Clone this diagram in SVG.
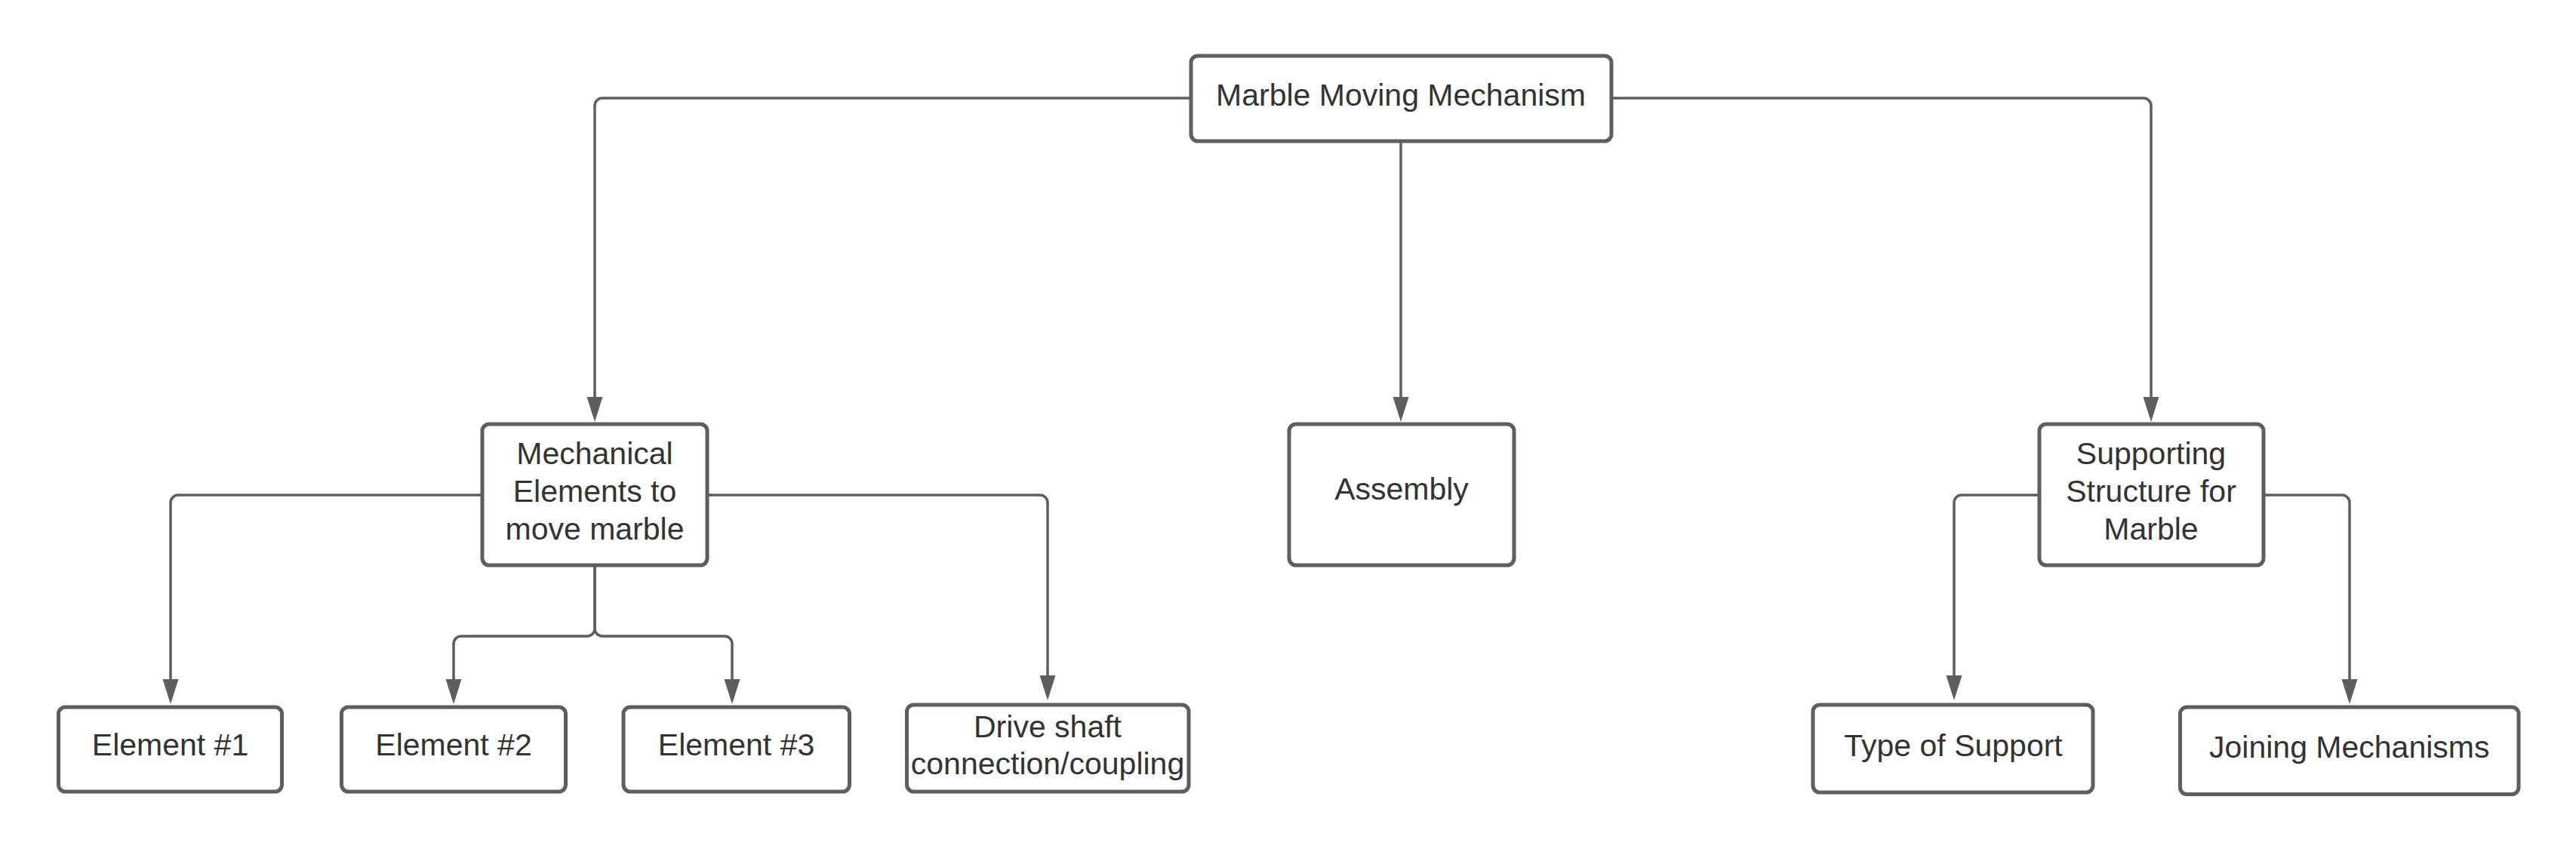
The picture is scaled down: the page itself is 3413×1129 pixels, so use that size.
<svg xmlns="http://www.w3.org/2000/svg" width="3413" height="1129" viewBox="0 0 3413 1129">
<style>
.box{fill:#ffffff;stroke:#5e5e5e;stroke-width:5}
.lbl{font-family:"Liberation Sans",Arial,sans-serif;font-size:41px;fill:#333333;text-anchor:middle}
.con{fill:none;stroke:#5e5e5e;stroke-width:3.5;marker-end:url(#arr)}
</style>
<defs>
<marker id="arr" markerUnits="userSpaceOnUse" markerWidth="34" markerHeight="22" refX="23" refY="10.5" orient="auto">
<path d="M0,0 L33,10.5 L0,21 Z" fill="#5e5e5e"/>
</marker>
</defs>
<rect width="3413" height="1129" fill="#ffffff"/>
<g id="connectors">
<path class="con" d="M1577,130 H798 A10,10 0 0 0 788,140 V549"/>
<path class="con" d="M1856,187 V549"/>
<path class="con" d="M2136,130 H2840 A10,10 0 0 1 2850,140 V549"/>
<path class="con" d="M639,656 H236 A10,10 0 0 0 226,666 V923"/>
<path class="con" d="M788,749 V833 A10,10 0 0 1 778,843 H611 A10,10 0 0 0 601,853 V923"/>
<path class="con" d="M788,749 V833 A10,10 0 0 0 798,843 H960 A10,10 0 0 1 970,853 V923"/>
<path class="con" d="M937,656 H1378 A10,10 0 0 1 1388,666 V918"/>
<path class="con" d="M2702,656 H2599 A10,10 0 0 0 2589,666 V918"/>
<path class="con" d="M2999,656 H3103 A10,10 0 0 1 3113,666 V923"/>
</g>
<g id="node-root">
<rect class="box" x="1578" y="74" width="557" height="113" rx="9"/>
<text class="lbl" x="1856" y="140">Marble Moving Mechanism</text>
</g>
<g id="node-mechanical">
<rect class="box" x="639" y="562" width="298" height="187" rx="9"/>
<text class="lbl" x="788" y="615">Mechanical</text>
<text class="lbl" x="788" y="665">Elements to</text>
<text class="lbl" x="788" y="715">move marble</text>
</g>
<g id="node-assembly">
<rect class="box" x="1708" y="562" width="298" height="187" rx="9"/>
<text class="lbl" x="1857" y="662">Assembly</text>
</g>
<g id="node-supporting">
<rect class="box" x="2702" y="562" width="297" height="187" rx="9"/>
<text class="lbl" x="2850" y="615">Supporting</text>
<text class="lbl" x="2850" y="665">Structure for</text>
<text class="lbl" x="2850" y="715">Marble</text>
</g>
<g id="node-element1">
<rect class="box" x="77.5" y="937" width="296" height="112" rx="9"/>
<text class="lbl" x="225.5" y="1001">Element #1</text>
</g>
<g id="node-element2">
<rect class="box" x="452.5" y="937" width="297" height="112" rx="9"/>
<text class="lbl" x="601" y="1001">Element #2</text>
</g>
<g id="node-element3">
<rect class="box" x="826" y="937" width="299.5" height="112" rx="9"/>
<text class="lbl" x="975.5" y="1001">Element #3</text>
</g>
<g id="node-driveshaft">
<rect class="box" x="1201.5" y="934" width="373.5" height="115" rx="9"/>
<text class="lbl" x="1388" y="977">Drive shaft</text>
<text class="lbl" x="1388" y="1026">connection/coupling</text>
</g>
<g id="node-typesupport">
<rect class="box" x="2402" y="934" width="371" height="116" rx="9"/>
<text class="lbl" x="2588" y="1002">Type of Support</text>
</g>
<g id="node-joining">
<rect class="box" x="2888.5" y="937" width="448.5" height="115.5" rx="9"/>
<text class="lbl" x="3112.75" y="1004">Joining Mechanisms</text>
</g>
</svg>
